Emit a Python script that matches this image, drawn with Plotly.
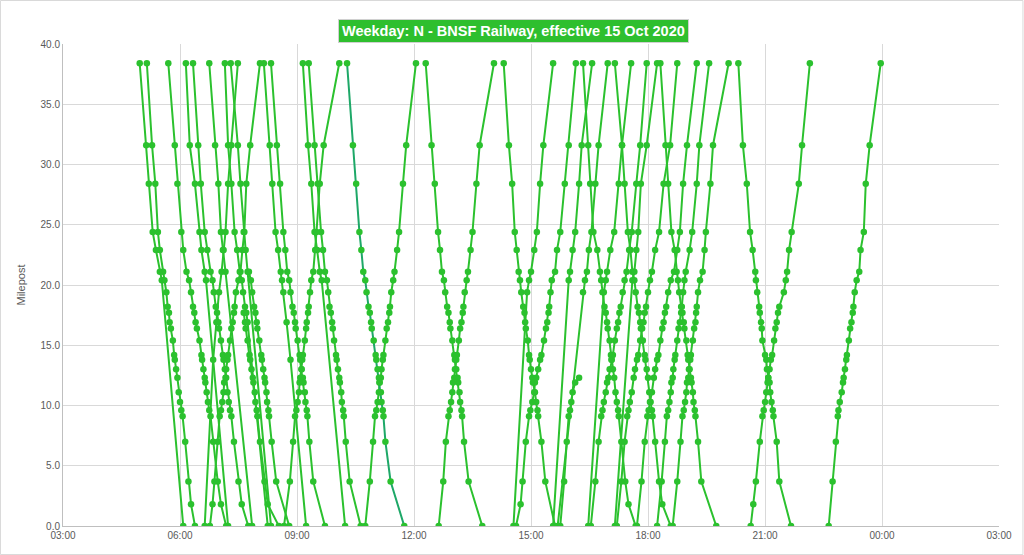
import plotly.graph_objects as go

# Station mileposts, Chicago Union Station (0.0) out to Aurora (38.4)
STATIONS = ["CUS", "HAL", "WES", "CIC", "LAV", "BER", "HAR", "RIV", "HOL", "BRO",
            "CON", "LGR", "STO", "WSP", "HIG", "HIN", "WHI", "CLA", "WMT", "FAI",
            "DGM", "BEL", "LIS", "NAP", "R59", "AUR"]
MILES_OUT = [0.0, 1.8, 3.7, 7.0, 9.1, 9.6, 10.3, 11.1, 11.9, 12.3,
             13.0, 13.8, 14.2, 15.4, 16.4, 16.9, 17.7, 18.2, 19.4, 20.4,
             21.1, 22.9, 24.4, 28.4, 31.6, 38.4]
MILES_IN = MILES_OUT[::-1]

# Inbound trains: times listed Aurora -> Chicago ('.' = no stop)
INBOUND = [
    "4:58 5:08 5:12 5:18 5:23 5:29 5:32 . . . . . . . . . . . . . . . . . . 6:05",
    "5:09 5:17 5:22 5:26 5:29 5:34 5:36 5:39 5:41 5:43 5:44 5:46 5:49 5:51 5:52 5:54 5:56 . 5:58 6:00 6:02 6:04 6:08 6:13 6:17 6:23",
    "5:42 5:52 5:56 6:02 6:05 6:10 6:14 6:17 6:20 6:22 6:24 6:26 6:30 6:33 6:34 6:36 6:38 6:39 6:41 6:43 6:45 6:47 6:51 6:58 7:03 7:11",
    "6:09 6:15 6:23 6:30 6:33 6:38 6:40 . . . . . . . . . . . . . . . . . . 7:14",
    "6:20 6:28 6:32 6:38 6:42 6:47 6:50 6:52 6:55 6:57 6:59 7:00 7:03 7:06 7:07 7:09 7:11 . 7:13 7:15 7:17 7:19 7:23 7:30 7:35 7:45",
    "6:45 6:54 6:59 7:03 7:06 7:10 . . . . . . . . . . . . . . . . . . . 7:51",
    "7:09 7:14 7:19 7:24 7:28 7:32 7:35 7:37 7:40 7:42 7:44 . . . . . . . . . . . . . . 8:15",
    "7:18 7:29 7:33 7:38 7:41 7:44 . . . . . . . . . . . . . . . . . . . 8:20",
    ". . . . . . . . . 7:38 7:40 7:41 7:44 7:47 7:48 7:50 7:52 7:53 7:55 7:56 7:58 7:59 8:03 8:10 8:15 8:32",
    ". . . . . 7:46 7:49 7:51 7:54 7:56 7:58 7:59 8:02 8:05 8:06 8:08 8:10 8:11 8:13 8:14 8:16 8:17 8:21 8:28 . 8:48",
    "8:09 8:18 8:22 8:27 8:31 8:35 8:37 8:39 . . 8:44 . . . 8:50 . . . . . . . . . . 9:14",
    "8:20 8:29 8:34 8:39 8:42 8:45 8:48 8:50 8:53 8:55 8:57 8:58 9:01 9:04 9:05 9:07 9:09 9:10 9:12 9:13 9:15 9:16 9:19 9:25 . 9:43",
    "9:09 9:17 9:22 9:27 9:31 9:35 9:38 . . . . . . . . . . . . . . . . . . 10:14",
    "9:18 9:27 9:32 9:37 9:40 9:43 9:46 9:48 9:50 9:52 9:54 9:55 9:57 10:00 10:01 10:03 10:05 10:06 10:08 10:09 10:11 10:12 10:15 10:21 . 10:38",
    "12:18 12:27 12:32 12:37 12:40 12:43 12:46 12:48 12:51 12:53 12:55 12:56 12:59 13:02 13:03 13:05 13:07 13:08 13:10 13:11 13:13 13:14 13:17 13:24 . 13:45",
    "14:18 14:26 14:31 14:35 14:38 14:41 14:43 14:45 14:48 14:50 14:51 14:52 14:55 14:57 14:58 15:00 15:02 15:03 15:06 15:08 15:10 15:11 15:16 15:22 . 15:37",
    "16:20 16:28 16:31 16:36 16:42 16:46 16:48 16:50 16:53 16:55 16:57 16:58 17:01 17:03 17:04 17:06 17:08 . 17:10 17:12 17:14 17:15 17:19 17:25 17:30 17:41",
    "17:09 17:20 17:24 17:29 17:33 17:36 17:39 17:41 17:44 17:46 17:48 17:49 17:52 17:55 17:56 17:58 18:00 . 18:02 18:04 18:06 18:07 18:11 18:17 18:22 18:35",
    "18:19 18:27 18:31 18:36 18:41 18:44 18:46 18:48 18:51 18:53 18:55 18:56 18:59 19:01 19:02 19:04 19:06 19:07 19:09 19:10 19:12 19:13 19:17 19:22 . 19:45",
    "20:19 20:26 20:32 20:37 20:41 20:45 20:46 20:48 20:51 20:52 20:54 20:55 20:56 21:00 21:02 21:03 21:05 21:07 21:08 21:10 21:12 21:13 21:18 21:22 . 21:40",
]

# the 10:17 from Aurora is drawn in a darker teal in the original
INBOUND_TEAL = [
    "10:17 10:26 10:31 10:36 10:39 10:42 10:45 10:47 10:50 10:52 10:54 10:55 10:58 11:01 11:02 11:04 11:06 11:07 11:09 11:10 11:12 11:13 11:16 11:24 . 11:45",
]

# Outbound trains: times listed Chicago -> Aurora
OUTBOUND = [
    "6:38 . . . . . . . . . . 6:51 . . . 6:56 . . 7:00 . 7:04 7:07 7:10 7:14 7:19 7:29",
    "6:46 6:50 6:53 6:58 7:01 7:03 7:05 7:07 7:08 7:10 7:11 7:13 7:14 7:17 7:19 7:21 7:23 7:24 7:26 7:30 7:33 7:36 7:39 7:42 7:48 8:03",
    "8:40 . 8:49 8:54 8:57 8:59 9:01 9:03 9:04 9:05 9:07 9:08 9:09 9:12 9:14 9:15 9:17 9:18 9:20 9:22 9:25 9:28 9:30 9:35 9:41 10:05",
    "10:45 . 10:52 10:57 11:00 11:02 11:04 11:06 11:07 11:09 11:10 11:12 11:13 11:16 11:18 11:20 11:22 11:23 11:25 11:28 11:30 11:34 11:37 11:43 11:48 12:03",
    "12:38 . 12:45 12:49 12:53 12:55 12:57 12:59 13:00 13:02 13:03 13:05 13:06 13:09 13:11 13:13 13:15 13:16 13:18 13:21 13:23 13:27 13:30 13:36 13:41 14:03",
    "14:33 . . . . . . . . . . . . . . . . . 14:54 14:57 15:00 15:05 15:09 15:14 15:19 15:34",
    "14:37 14:44 14:47 14:52 14:57 14:59 15:02 15:05 15:06 15:08 15:11 15:14 15:16 15:20 15:23 15:25 15:27 15:28 15:30 15:32 15:37 15:40 15:45 15:52 15:58 16:09",
    "15:45 . 15:51 15:55 15:58 16:00 16:02 16:04 16:08 16:14 . . . . . . . . . . . . . . . .",
    "15:34 . . . . . . . . . . . . . . . . . . 15:58 16:00 16:04 16:08 16:14 16:18 16:34",
    "15:41 . . . . . . . . . . . . . . . . . 16:20 16:23 16:26 16:29 16:33 16:39 16:44 16:58",
    "16:28 . . . . . . . . . . . . . . . . . 16:52 16:55 16:57 17:02 17:08 17:15 17:20 17:34",
    "16:32 . 16:39 16:44 16:48 16:50 16:52 16:55 16:57 16:59 17:01 17:04 17:06 17:09 17:12 17:14 17:16 17:18 17:21 17:24 17:27 17:31 17:35 17:42 17:48 17:58",
    "17:09 . . . . . . . . . . . . . . . . . . 17:36 17:39 17:42 17:45 17:49 17:58 18:14",
    "17:12 . 17:19 17:24 17:28 17:30 17:32 17:35 . 17:38 17:40 17:43 17:45 17:48 17:51 17:53 17:55 17:57 18:00 18:03 18:06 18:11 18:17 18:24 18:34 18:45",
    "17:43 . 17:50 17:55 17:59 18:01 18:03 18:06 . 18:09 18:11 18:14 18:16 18:19 18:22 18:24 18:26 18:28 18:31 18:35 18:40 18:45 18:49 18:54 19:00 19:15",
    "18:14 . 18:21 18:26 18:29 18:31 18:33 18:35 18:36 18:38 18:39 18:41 18:42 18:45 18:47 18:49 18:51 18:52 18:54 18:56 18:58 19:04 19:08 19:15 19:19 19:34",
    "18:38 . 18:45 18:50 18:53 18:55 18:57 18:59 19:00 19:02 19:03 19:05 19:06 19:09 19:11 19:13 19:14 19:15 19:17 19:20 19:24 19:27 19:29 19:36 19:40 20:04",
    "20:38 20:42 20:46 20:52 20:56 20:58 21:00 21:02 21:04 21:05 21:07 21:09 21:11 21:14 21:16 21:18 21:20 21:22 21:29 21:32 21:34 21:37 21:41 21:52 21:57 22:09",
    "22:38 . 22:44 22:49 22:52 22:53 22:55 22:58 23:00 23:01 23:03 23:05 23:06 23:09 23:11 23:13 23:15 23:16 23:18 23:21 23:25 23:27 23:32 23:35 23:41 23:58",
]

X_TICKS = [3, 6, 9, 12, 15, 18, 21, 24, 27]
X_LABELS = ["03:00", "06:00", "09:00", "12:00", "15:00", "18:00", "21:00", "00:00", "03:00"]

GREEN = "#2BC12E"
TEAL = "#1EA868"
GRID = "#D9D9D9"
TICK = "#595959"
FONT = "Liberation Sans Narrow, Arial Narrow, sans-serif"


def to_hours(tok):
    h, m = tok.split(":")
    return int(h) + int(m) / 60.0


def build_xy(trains, miles):
    xs, ys = [], []
    for row in trains:
        for tok, mp in zip(row.split(), miles):
            if tok == ".":
                continue
            xs.append(to_hours(tok))
            ys.append(mp)
        xs.append(None)
        ys.append(None)
    return xs, ys


x_in, y_in = build_xy(INBOUND, MILES_IN)
x_out, y_out = build_xy(OUTBOUND, MILES_OUT)
x_teal, y_teal = build_xy(INBOUND_TEAL, MILES_IN)

fig = go.Figure()
for xs, ys, col in [(x_in + x_out, y_in + y_out, GREEN), (x_teal, y_teal, TEAL)]:
    fig.add_trace(go.Scatter(
        x=xs, y=ys,
        mode="lines+markers",
        line=dict(color=col, width=2),
        marker=dict(size=6.5, color=GREEN),
        connectgaps=False,
        showlegend=False,
        hoverinfo="skip",
    ))

# title box
fig.add_annotation(
    x=0.4813, y=1.052, xref="paper", yref="paper",
    text="<b>Weekday: N - BNSF Railway, effective 15 Oct 2020</b>",
    showarrow=False,
    font=dict(family=FONT, size=14.5, color="white"),
    bgcolor="#2EBF2E", bordercolor="#D0D0D0", borderwidth=1, borderpad=3,
)

# outer frame round the whole chart
fig.add_shape(
    type="rect", xref="paper", yref="paper",
    x0=-0.0668, x1=1.0256, y0=-0.0592, y1=1.0902,
    line=dict(color=GRID, width=1),
)

fig.update_layout(
    width=1024, height=555,
    margin=dict(l=63, r=25, t=44, b=29),
    plot_bgcolor="white", paper_bgcolor="white",
    font=dict(family=FONT, size=10, color=TICK),
    xaxis=dict(
        range=[3, 27], tickvals=X_TICKS, ticktext=X_LABELS,
        showgrid=True, gridcolor=GRID, gridwidth=1,
        showline=True, linecolor="#BFBFBF", zeroline=False,
        ticks="", tickfont=dict(size=10, color=TICK),
    ),
    yaxis=dict(
        range=[0, 40], dtick=5, tickformat=".1f",
        showgrid=True, gridcolor=GRID, gridwidth=1,
        showline=True, linecolor="#BFBFBF", zeroline=False,
        ticks="", tickfont=dict(size=10, color=TICK),
        title=dict(text="Milepost", font=dict(size=11, color=TICK), standoff=12),
    ),
)

fig.write_html("out.html", config={"displayModeBar": False},
               post_script="document.body.style.margin='0';")
